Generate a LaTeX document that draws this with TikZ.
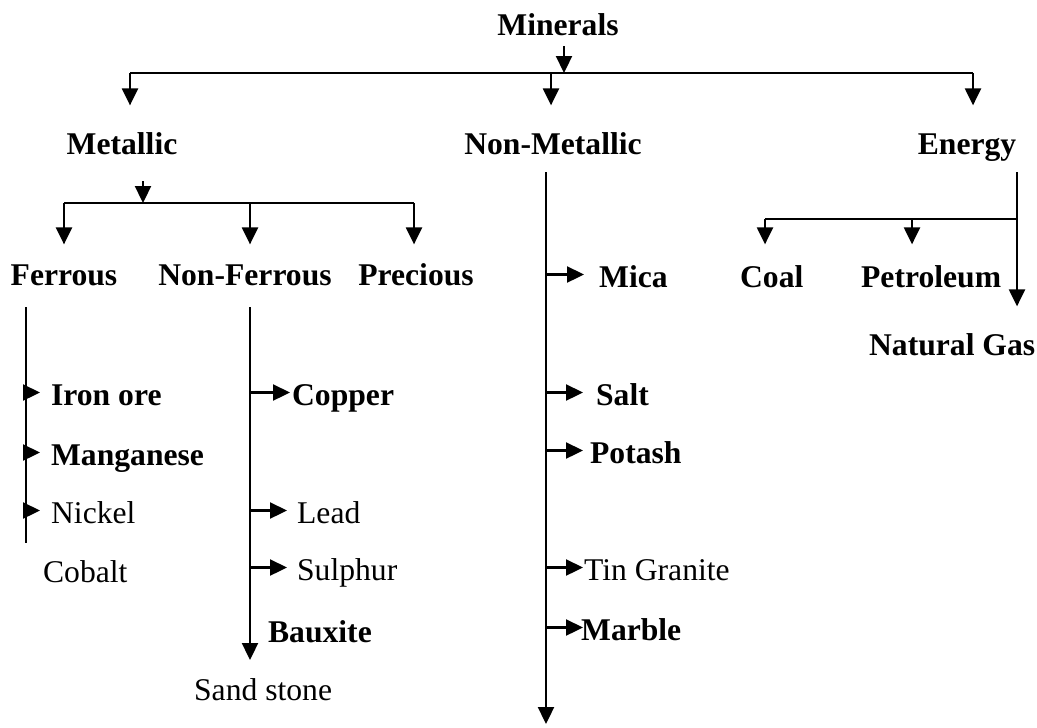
\documentclass[tikz,border=0pt]{standalone}
\usepackage{fontspec}
\setmainfont{Liberation Serif}
\usetikzlibrary{arrows.meta}
\tikzset{
  arr/.style={-{Triangle[length=0.34cm,width=0.32cm]}},
  head/.style={font=\fontsize{18}{20}\selectfont\bfseries, inner sep=0pt,
    text height=0.5cm, text depth=0pt, anchor=base},
  item/.style={font=\fontsize{18}{20}\selectfont, inner sep=0pt,
    text height=0.5cm, text depth=0pt, anchor=base west},
  bitem/.style={item, font=\fontsize{18}{20}\selectfont\bfseries}
}
\begin{document}
\begin{tikzpicture}[x=0.02cm, y=-0.02cm, line width=1.3pt]
\useasboundingbox (0,0) rectangle (1037,727);
% headings
\node[head] (minerals) at (558,35) {Minerals};
\node[head] (metallic) at (122,154) {Metallic};
\node[head] (nonmetallic) at (553,154) {Non-Metallic};
\node[head] (energy) at (967,154) {Energy};
\node[head] (ferrous) at (64,285) {Ferrous};
\node[head] (nonferrous) at (245,285) {Non-Ferrous};
\node[head] (precious) at (416,285) {Precious};
% items
\node[bitem] (iron) at (50,405) {Iron ore};
\node[bitem] (manganese) at (50,465) {Manganese};
\node[item] (nickel) at (50,523) {Nickel};
\node[item] (cobalt) at (42,582) {Cobalt};
\node[bitem] (copper) at (291,405) {Copper};
\node[item] (lead) at (296,523) {Lead};
\node[item] (sulphur) at (296,580) {Sulphur};
\node[bitem] (bauxite) at (267,642) {Bauxite};
\node[item] (sandstone) at (193,700) {Sand stone};
\node[bitem] (mica) at (598,287) {Mica};
\node[bitem] (salt) at (595,405) {Salt};
\node[bitem] (potash) at (589,463) {Potash};
\node[item] (tin) at (583,580) {Tin Granite};
\node[bitem] (marble) at (580,640) {Marble};
\node[bitem] (coal) at (739,287) {Coal};
\node[bitem] (petroleum) at (860,287) {Petroleum};
\node[bitem] (natgas) at (868,355) {Natural Gas};
% junctions
\coordinate (mjoin) at (564,73);
\coordinate (barL) at (130,73);
\coordinate (barM) at (551,73);
\coordinate (barR) at (973,73);
\coordinate (metjoin) at (143,203);
\coordinate (fbarL) at (64,203);
\coordinate (fbarM) at (250,203);
\coordinate (fbarR) at (414,203);
\coordinate (fetop) at (26,307);
\coordinate (febot) at (26,543);
\coordinate (nftop) at (250,307);
\coordinate (nfbot) at (250,660);
\coordinate (nmtop) at (546,172);
\coordinate (nmbot) at (546,724);
\coordinate (etop) at (1017,172);
\coordinate (cbar) at (765,219);
\coordinate (pbar) at (912,219);
% minerals
\draw[arr, shorten <=0.2cm] (minerals.south -| mjoin) -- (mjoin);
\draw (barL) -- (barR);
\draw[arr, shorten >=0.45cm] (barL) -- (barL |- metallic.north);
\draw[arr, shorten >=0.45cm] (barM) -- (barM |- nonmetallic.north);
\draw[arr, shorten >=0.45cm] (barR) -- (barR |- energy.north);
% metallic
\draw[arr, shorten <=0.52cm] (metallic.south -| metjoin) -- (metjoin);
\draw (fbarL) -- (fbarR);
\foreach \b/\n in {fbarL/ferrous, fbarM/nonferrous, fbarR/precious}
  \draw[arr, shorten >=0.29cm] (\b) -- (\b |- \n.north);
% ferrous
\draw (fetop) -- (febot);
\foreach \n in {iron, manganese, nickel}
  \draw[arr, shorten >=0.2cm] (fetop |- \n.west) -- (\n.west);
% non-ferrous
\draw[arr] (nftop) -- (nfbot);
\draw[arr, shorten >=0.02cm] (nftop |- copper.west) -- (copper.west);
\foreach \n in {lead, sulphur}
  \draw[arr, shorten >=0.18cm] (nftop |- \n.west) -- (\n.west);
% non-metallic
\draw[arr] (nmtop) -- (nmbot);
\foreach \n/\s in {mica/0.28cm, salt/0.24cm, potash/0.12cm, tin/0cm, marble/-0.06cm}
  \draw[arr, shorten >=\s] (nmtop |- \n.west) -- (\n.west);
% energy
\draw[arr, shorten >=0.45cm] (etop) -- (etop |- natgas.north);
\draw (cbar) -- (etop |- cbar);
\draw[arr, shorten >=0.33cm] (cbar) -- (cbar |- coal.north);
\draw[arr, shorten >=0.33cm] (pbar) -- (pbar |- petroleum.north);
\end{tikzpicture}
\end{document}
